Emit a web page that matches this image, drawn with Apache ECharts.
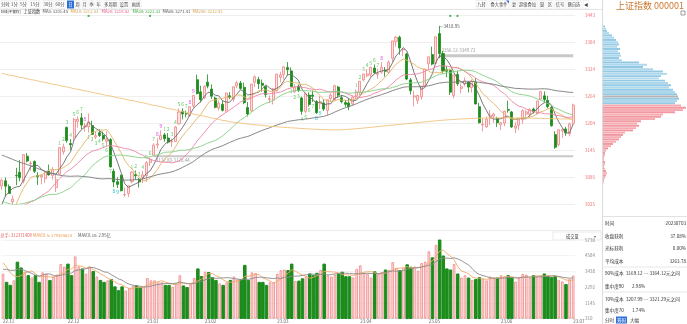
<!DOCTYPE html>
<html><head><meta charset="utf-8">
<script src="https://cdn.jsdelivr.net/npm/echarts@6/dist/echarts.min.js"></script>
<style>html,body{margin:0;padding:0;background:#fff;}#c{width:687px;height:324px;}</style>
</head><body><div id="c"></div><script>
const dates = ['2022-11-07','2022-11-08','2022-11-09','2022-11-10','2022-11-11','2022-11-14','2022-11-15','2022-11-16','2022-11-17','2022-11-18','2022-11-21','2022-11-22','2022-11-23','2022-11-24','2022-11-25','2022-11-28','2022-11-29','2022-11-30',
'2022-12-01','2022-12-02','2022-12-05','2022-12-06','2022-12-07','2022-12-08','2022-12-09','2022-12-12','2022-12-13','2022-12-14','2022-12-15','2022-12-16','2022-12-19','2022-12-20','2022-12-21','2022-12-22','2022-12-23','2022-12-26','2022-12-27','2022-12-28','2022-12-29','2022-12-30',
'2023-01-03','2023-01-04','2023-01-05','2023-01-06','2023-01-09','2023-01-10','2023-01-11','2023-01-12','2023-01-13','2023-01-16','2023-01-17','2023-01-18','2023-01-19','2023-01-20','2023-01-30','2023-01-31',
'2023-02-01','2023-02-02','2023-02-03','2023-02-06','2023-02-07','2023-02-08','2023-02-09','2023-02-10','2023-02-13','2023-02-14','2023-02-15','2023-02-16','2023-02-17','2023-02-20','2023-02-21','2023-02-22','2023-02-23','2023-02-24','2023-02-27','2023-02-28',
'2023-03-01','2023-03-02','2023-03-03','2023-03-06','2023-03-07','2023-03-08','2023-03-09','2023-03-10','2023-03-13','2023-03-14','2023-03-15','2023-03-16','2023-03-17','2023-03-20','2023-03-21','2023-03-22','2023-03-23','2023-03-24','2023-03-27','2023-03-28','2023-03-29','2023-03-30','2023-03-31',
'2023-04-03','2023-04-04','2023-04-06','2023-04-07','2023-04-10','2023-04-11','2023-04-12','2023-04-13','2023-04-14','2023-04-17','2023-04-18','2023-04-19','2023-04-20','2023-04-21','2023-04-24','2023-04-25','2023-04-26','2023-04-27','2023-04-28',
'2023-05-04','2023-05-05','2023-05-08','2023-05-09','2023-05-10','2023-05-11','2023-05-12','2023-05-15','2023-05-16','2023-05-17','2023-05-18','2023-05-19','2023-05-22','2023-05-23','2023-05-24','2023-05-25','2023-05-26','2023-05-29','2023-05-30','2023-05-31',
'2023-06-01','2023-06-02','2023-06-05','2023-06-06','2023-06-07','2023-06-08','2023-06-09','2023-06-12','2023-06-13','2023-06-14','2023-06-15','2023-06-16','2023-06-19','2023-06-20','2023-06-21','2023-06-26','2023-06-27','2023-06-28','2023-06-29','2023-06-30',
'2023-07-03'];

const opens = [3064.9,3076.3,3063.6,3029.6,3088.3,3095.2,3075.8,3130.8,3114.5,3119.1,3087.8,3084.9,3081.1,3097.7,3087.7,3061.6,3091.0,3140.5,
3194.3,3158.7,3173.1,3207.2,3215.5,3195.3,3195.9,3198.4,3172.9,3182.7,3176.9,3163.5,3167.4,3097.6,3074.4,3088.7,3045.3,3048.4,3074.7,3089.9,3079.4,3083.5,
3087.5,3117.0,3132.8,3155.4,3167.6,3177.9,3170.9,3162.2,3163.4,3202.4,3230.2,3224.5,3220.6,3242.0,3300.0,3273.0,
3260.1,3294.5,3279.2,3259.3,3237.3,3245.5,3232.2,3264.3,3256.8,3286.0,3292.6,3283.0,3238.4,3230.9,3294.3,3300.2,3292.1,3284.9,3256.1,3254.8,
3275.5,3305.4,3311.4,3327.0,3319.4,3273.5,3286.0,3259.6,3229.9,3265.8,3265.8,3251.7,3246.8,3248.4,3231.9,3257.8,3255.7,3283.6,3260.2,3249.3,3248.6,3246.2,3263.8,
3270.8,3299.5,3308.8,3310.6,3325.7,3311.7,3316.7,3320.8,3315.6,3347.1,3384.9,3393.9,3365.9,3356.9,3299.5,3261.5,3254.2,3261.8,3286.2,
3334.9,3355.4,3336.0,3401.9,3357.7,3321.9,3320.5,3265.2,3311.6,3280.7,3290.4,3294.9,3282.7,3294.4,3240.3,3200.0,3195.5,3214.9,3219.4,3213.6,
3200.4,3203.9,3233.8,3228.6,3192.8,3199.4,3211.2,3223.7,3223.4,3234.9,3224.9,3256.9,3264.2,3254.5,3238.4,3178.5,3156.3,3186.2,3191.0,3180.3,
3203.0];
const closes = [3077.8,3064.5,3048.3,3036.1,3087.3,3083.4,3134.1,3120.0,3115.4,3097.2,3085.0,3088.9,3096.9,3089.3,3101.7,3078.6,3149.8,3151.3,
3165.5,3156.1,3211.8,3212.5,3199.6,3197.4,3206.9,3179.0,3176.3,3176.5,3168.7,3167.9,3107.1,3073.8,3068.4,3054.4,3045.9,3065.6,3095.6,3087.4,3073.7,3089.3,
3116.5,3123.5,3155.2,3157.6,3176.1,3169.5,3161.8,3163.5,3195.3,3228.5,3224.2,3224.4,3240.3,3264.8,3269.3,3255.7,
3284.9,3285.7,3263.4,3238.7,3248.1,3232.1,3270.4,3260.7,3284.2,3293.3,3280.5,3249.0,3224.0,3290.3,3306.5,3291.2,3287.5,3267.2,3258.0,3279.6,
3312.4,3310.7,3328.4,3322.0,3285.1,3283.3,3276.1,3230.1,3268.7,3245.3,3263.3,3226.9,3250.6,3234.9,3255.7,3265.7,3286.6,3265.7,3251.4,3245.4,3240.1,3261.3,3272.9,
3296.4,3312.6,3312.6,3327.6,3315.4,3313.6,3327.2,3318.4,3338.2,3385.6,3393.3,3370.1,3367.5,3301.3,3275.4,3264.1,3264.9,3285.9,3323.3,
3350.5,3334.5,3395.0,3357.7,3319.1,3318.6,3272.4,3310.7,3291.0,3284.2,3297.3,3283.5,3296.5,3246.2,3204.6,3201.3,3212.5,3221.5,3224.2,3204.6,
3204.6,3230.1,3232.4,3195.3,3197.8,3213.6,3231.4,3228.8,3233.7,3228.9,3253.0,3273.3,3255.8,3240.4,3197.9,3150.6,3189.4,3189.4,3182.4,3202.1,
3243.98];
const lows = [3056.6,3041.7,3047.6,3023.85,3066.6,3075.2,3070.6,3117.2,3098.7,3093.6,3067.3,3068.7,3071.6,3088.0,3079.1,3051.4,3090.4,3134.2,
3160.4,3143.8,3164.6,3193.8,3190.3,3184.7,3182.7,3177.6,3168.2,3173.1,3163.8,3152.0,3105.7,3062.2,3060.1,3052.9,3040.97,3040.2,3070.9,3078.3,3061.5,3070.9,
3073.9,3109.0,3132.8,3147.6,3165.8,3162.9,3158.6,3151.6,3163.4,3200.8,3212.2,3216.6,3217.7,3237.3,3267.2,3249.8,
3256.9,3280.8,3257.7,3236.6,3231.6,3229.6,3226.8,3256.5,3250.9,3281.0,3278.2,3245.7,3218.4,3229.0,3283.6,3279.3,3273.2,3260.5,3248.0,3245.2,
3273.7,3294.0,3300.5,3309.4,3283.7,3270.4,3272.6,3222.4,3225.6,3240.5,3250.6,3224.2,3234.7,3230.6,3221.7,3250.6,3254.3,3260.6,3247.4,3240.0,3232.4,3242.6,3256.5,
3265.5,3296.4,3305.6,3305.7,3313.2,3302.2,3312.9,3306.8,3312.3,3339.5,3373.2,3355.2,3351.6,3298.7,3267.1,3240.7,3245.8,3255.9,3283.8,
3322.6,3331.6,3336.0,3347.6,3313.6,3305.3,3266.1,3258.3,3286.4,3269.4,3285.0,3271.6,3271.4,3245.4,3203.2,3185.8,3193.9,3199.9,3204.2,3195.2,
3188.5,3197.0,3227.0,3193.5,3181.8,3188.5,3202.3,3216.6,3215.9,3224.7,3222.0,3254.1,3248.6,3236.6,3196.2,3146.8,3152.8,3171.6,3175.8,3174.7,
3200.2];
const highs = [3081.4,3083.5,3068.4,3043.8,3105.0,3122.0,3135.3,3137.5,3119.9,3121.3,3095.2,3089.9,3097.9,3112.1,3106.9,3089.8,3151.3,3158.6,
3196.3,3168.6,3215.0,3219.0,3226.3,3204.8,3225.2,3209.0,3185.8,3190.3,3185.1,3185.8,3170.5,3103.2,3084.0,3089.8,3061.6,3066.1,3097.7,3098.9,3082.5,3098.1,
3119.9,3128.4,3159.4,3170.4,3188.1,3182.2,3181.6,3169.7,3197.6,3236.9,3236.8,3231.6,3241.6,3265.9,3311.0,3286.4,
3287.1,3311.7,3289.4,3262.5,3253.9,3253.5,3271.6,3272.3,3285.0,3297.4,3297.1,3293.7,3250.7,3290.6,3309.3,3306.3,3300.3,3286.3,3264.7,3282.1,
3313.0,3317.5,3329.5,3339.0,3327.3,3290.4,3289.2,3262.3,3270.8,3271.8,3276.2,3254.7,3263.7,3256.1,3255.7,3270.0,3288.6,3286.3,3266.2,3255.0,3258.5,3263.4,3278.2,
3296.4,3313.6,3323.0,3328.4,3333.8,3324.4,3338.9,3328.1,3342.5,3385.6,3396.6,3397.2,3368.3,3359.3,3303.6,3275.6,3266.8,3285.9,3323.4,
3350.5,3372.9,3395.0,3418.95,3363.6,3330.0,3324.1,3310.7,3318.9,3291.9,3304.6,3296.3,3300.2,3303.1,3248.5,3214.5,3218.5,3233.0,3226.7,3218.0,
3206.5,3231.6,3253.4,3230.9,3205.8,3214.0,3234.3,3232.3,3236.6,3238.3,3253.0,3275.3,3274.0,3264.1,3242.3,3186.0,3189.5,3193.2,3195.9,3205.3,
3246.8];
const volumes = [3270,2640,2420,2780,4110,3690,3410,3130,2990,3130,2640,3360,3270,2780,3060,3200,3970,3780,
3970,3130,4530,3780,3620,3270,3780,3430,3060,2780,2640,2780,2850,2310,2030,2310,2030,2200,2380,2380,2260,2300,
2950,2780,2780,2640,2640,2420,2420,2310,2560,3150,2380,2260,2500,2950,3620,3060,
3410,3360,2990,2780,2560,2420,2640,2780,3060,2850,2850,3880,2780,3360,3310,2640,2640,2420,2640,2640,
3270,3520,3570,3500,3970,2730,2730,2900,3060,3250,3130,3300,3540,3970,3150,3060,3200,3250,3380,3050,3050,2990,3620,
3880,3330,3250,2990,3410,3250,3380,3540,3540,4110,3690,3500,3690,3920,3740,3780,3480,4040,4150,
4900,4430,5360,5730,4560,3620,3540,3970,3250,2990,3150,2950,2810,2840,2990,2870,2780,3060,2990,2950,
3150,3060,3130,2950,2690,2950,3250,3200,2950,3130,3060,3150,3250,3080,2980,3076,2800,2700,2480,2860,
3124];
const priorCloses = [3236.93,3247.43,3230.02,3281.67,3276.89,3276.09,3277.54,3292.53,3277.79,3258.08,3277.44,3276.22,3215.20,3246.25,3236.22,3240.73,3227.22,3202.14,
3184.98,3186.48,3199.91,3243.45,3246.29,3235.59,3262.05,3263.80,3237.54,3199.92,3126.40,3115.60,3122.41,3117.18,3108.91,3088.37,3051.23,3093.86,3045.07,3041.20,3024.39,
2974.15,2979.79,3025.51,3016.36,3071.99,3084.94,3080.96,3044.39,3035.05,3038.93,2977.56,2976.28,2999.50,2982.90,2915.93,2893.48,
2969.20,3003.37,2997.81,3070.80];
const priorVolumes = [2800,3000,2900,3300,3600,4300,4400,3900,4500];
const ma250 = [3314,3312,3310,3309,3307,3305,3304,3302,3300,3299,3297,3295,3294,3292,3290,3289,3287,3285,3284,3282,3280,
3278.5,3277,3275,3274,3272,3270,3269,3267,3265,3264,3262,3260,3259,3257,3255,3254,3252,3250,3249,3247,
3245,3243,3242,3240,3238,3236,3235,3233,3231,3229,3228,3226,3224,3222,3221,3219,3217,3215,3214,3212,3210,3209,3207,
3206,3205,3204,3203,3202,3201,3200,3199.5,3199,3198,3197,3196.5,3196,3195,3194.5,3194,3193.5,3193,3192.5,3192,3191.5,3191,3190.5,3190,3190,3189.5,3189.5,3189,
3189,3189,3189.3,3189.7,3190.2,3190.8,3191.5,3192.2,3193,3193.8,3194.6,3195.4,3196.2,3197,3197.8,3198.6,3199.4,3200.2,3201,3201.8,3202.6,3203.4,3204.2,3205,3205.8,3206.6,3207.4,3208.2,3209,3209.7,3210.4,3211,3211.6,3212.1,3212.6,3213,3213.4,3213.8,3214.1,
3214.4,3214.7,3215,3215.2,3215.4,3215.5,3215.6,3215.7,3215.7,3215.7,3215.6,3215.5,3215.4,3215.3,3215.1,3214.9,3214.7,3214.5,3214.3,3214.1,3213.9,3213.7,3213.5,3213.4,3213.2,3213.1,3213.0,3212.83];
const priceTicks = ['3025','3085','3145','3204','3264','3324','3384','3443'];
const volTicks = ['310','1145','2292','3438','4584','5730'];
const chipPrices = [3415,3410,3405,3400,3395,3390,3385,3380,3375,3370,3365,3360,3355,3350,3345,3340,3335,3330,3325,3320,3315,3310,3305,3300,3295,3290,3285,3280,3275,3270,3265,3260,3255,3250,3245,3240,3235,3230,3225,3220,3215,3210,3205,3200,3195,3190,3185,3180,3175,3170,3165,3160,3155,3150,3145,3140,3135,3130,3125,3120,3115,3110,3105,3100,3095,3090,3085,3080,3075,3070];
const chipSizes = [2,3,4,6,9,11,13,15,16,14,17,15,17,18,16,19,36,44,40,50,60,64,58,56,62,65,68,66,70,72,74,75,76,74,72,78,83,80,72,60,58,52,38,34,36,33,30,22,20,18,16,13,10,8,5,3,2,2,1,1,2,2,1,2,3,4,3,2,1,1];
const chipStep = 5;
const avgCost = 3263.78;
const gapBands = [[121, 3349.72, 3356.12, '3356.12-3349.72', -6], [42, 3128.44, 3132.80, '3132.80-3128.44', 3]];
const eventDays = [24, 41, 124, 126];

const FONT = '"Noto Sans CJK SC","Noto Sans",sans-serif';
const lastClose = closes[closes.length-1];
function maOf(n){
  const all = priorCloses.concat(closes);
  return closes.map((c,i)=>{const end=priorCloses.length+i;let s=0;for(let k=end-n+1;k<=end;k++)s+=all[k];return +(s/n).toFixed(2);});
}
function maVol(n){
  const all = priorVolumes.concat(volumes);
  return volumes.map((v,i)=>{const end=priorVolumes.length+i;let s=0;for(let k=end-n+1;k<=end;k++)s+=all[k];return Math.round(s/n);});
}
// TD sequential ("九转") counts derived from closes: [index, count, isUp]
function tdMarks(){
  const all = priorCloses.concat(closes), off = priorCloses.length;
  let up=0, dn=0; const upC=[], dnC=[];
  for(let i=0;i<closes.length;i++){
    const c=all[off+i], p=all[off+i-4];
    if(c>p){up = up>=9?1:up+1;} else up=0;
    if(c<p){dn = dn>=9?1:dn+1;} else dn=0;
    upC.push(up); dnC.push(dn);
  }
  const pts=[];
  function keep(arr, isUp){
    let i=0;
    while(i<arr.length){
      if(arr[i]===1){
        let j=i; while(j+1<arr.length && arr[j+1]===arr[j]+1) j++;
        if(arr[j]>=8){ for(let k=i;k<=j;k++) pts.push([k, arr[k], isUp?1:0]); }
        i=j+1;
      } else i++;
    }
  }
  keep(upC,true); keep(dnC,false);
  return pts;
}
const candle = opens.map((o,i)=>[o,closes[i],lows[i],highs[i]]);
const UPF='#fde3e3', UPB='#f08585', DN='#1c8c1c';
const volData = volumes.map((v,i)=>({value:v,itemStyle: closes[i]>=opens[i]?{color:UPF,borderColor:UPB,borderWidth:0.8}:{color:DN,borderColor:DN}}));
const maDefs = [[5,'#6a6a6a'],[10,'#e2b468'],[20,'#ec86a6'],[30,'#86cf86'],[60,'#7a7a7a']];
const hiIdx = highs.indexOf(Math.max(...highs)), loIdx = lows.indexOf(Math.min(...lows));

const chart = echarts.init(document.getElementById('c'), null, {renderer:'canvas'});
const series = [{
  type:'candlestick', xAxisIndex:0, yAxisIndex:0, data:candle, barWidth:'70%', clip:false,
  itemStyle:{color:UPF,color0:DN,borderColor:UPB,borderColor0:DN,borderWidth:0.8},
  markArea:{silent:true, data: gapBands.map(g=>[{xAxis:dates[g[0]],yAxis:g[1],name:g[3],itemStyle:{color:'#c8c8c8'},label:{show:true,position:[2,g[4]],color:'#999',fontSize:4.5,fontFamily:FONT}},{xAxis:dates[dates.length-1],yAxis:g[2]}])},
  markPoint:{symbol:'rect',symbolSize:0,silent:true,data:[
    {coord:[dates[hiIdx],highs[hiIdx]],label:{show:true,position:'right',distance:0,formatter:'—'+highs[hiIdx].toFixed(2),color:'#555',fontSize:4.5,fontFamily:FONT}},
    {coord:[dates[loIdx],lows[loIdx]],label:{show:true,position:'right',distance:0,formatter:'—'+lows[loIdx].toFixed(2),color:'#555',fontSize:4.5,fontFamily:FONT}}]}
}];
maDefs.forEach(([n,c])=>series.push({type:'line',xAxisIndex:0,yAxisIndex:0,data:maOf(n),symbol:'none',lineStyle:{width:0.9,color:c},silent:true}));
series.push({type:'line',xAxisIndex:0,yAxisIndex:0,data:ma250,symbol:'none',lineStyle:{width:0.9,color:'#efc27e'},silent:true});
series.push({type:'custom',xAxisIndex:0,yAxisIndex:0,silent:true,clip:false,data:tdMarks(),
  renderItem:(params,api)=>{
    const k=api.value(0), n=api.value(1), isUp=api.value(2)===1;
    const p=api.coord([k, isUp?highs[k]:lows[k]]);
    const col = n>=8 ? (isUp?'#e040e0':'#19b9c9') : '#66cc66';
    return {type:'text',x:p[0],y:p[1]+(isUp?-4:4),style:{text:String(n),fill:col,font:'5px '+FONT,textAlign:'center',textVerticalAlign:'middle'}};
  }});
series.push({type:'scatter',xAxisIndex:0,yAxisIndex:0,symbol:'rect',symbolSize:2,silent:true,itemStyle:{color:'#2a9d2a'},clip:false,data:eventDays.map(i=>[dates[i],3441])});
series.push({type:'bar',xAxisIndex:1,yAxisIndex:1,data:volData,barWidth:'70%'});
series.push({type:'line',xAxisIndex:1,yAxisIndex:1,data:maVol(5),symbol:'none',lineStyle:{width:0.9,color:'#f0a868'}});
series.push({type:'line',xAxisIndex:1,yAxisIndex:1,data:maVol(10),symbol:'none',lineStyle:{width:0.9,color:'#8a8a8a'}});
series.push({type:'custom',xAxisIndex:2,yAxisIndex:2,data:chipPrices.map((p,i)=>[p,chipSizes[i]]),
  renderItem:(params,api)=>{
    const lo=api.value(0), len=api.value(1);
    const a=api.coord([0,lo+chipStep]), b=api.coord([len,lo]);
    let fill;
    if(avgCost>=lo && avgCost<lo+chipStep) fill='#b5b5b5';
    else if(lo>=lastClose) fill = params.dataIndex%2?'#acd7ec':'#93c9e4';
    else fill = params.dataIndex%2?'#f5abb1':'#f1979f';
    return {type:'rect',shape:{x:a[0],y:a[1],width:b[0]-a[0],height:Math.max(0.8,b[1]-a[1]-0.3)},style:{fill:fill}};
  }});

const FS = 4.2;
function txt(x,y,t,c,fs,align){return {type:'text',x:x,y:y,style:{text:t,fill:c||'#333',font:(fs||FS)+'px '+FONT,textAlign:align||'left',textVerticalAlign:'middle'}};}
const graphics = [];
graphics.push({type:'line',shape:{x1:0,y1:9.5,x2:602,y2:9.5},style:{stroke:'#e4e4e4',lineWidth:1}});
graphics.push({type:'line',shape:{x1:602.5,y1:0,x2:602.5,y2:324},style:{stroke:'#dcdcdc',lineWidth:1}});
graphics.push({type:'line',shape:{x1:0,y1:230.5,x2:602,y2:230.5},style:{stroke:'#ececec',lineWidth:1}});
const tb = [['分时',1,9],['1分',11,7],['5分',20,7],['15分',30,10],['30分',43,10],['60分',55,10],['日',67,7],['周',75,5],['月',82,5],['季',89,5],['年',96,5],['多周期',104,13],['设置',119,10],['画线',131,10]];
tb.forEach(([t,x,w])=>{
  if(t==='日') graphics.push({type:'rect',shape:{x:x,y:0.5,width:w,height:8},style:{fill:'#2d6fd6'}});
  else graphics.push({type:'rect',shape:{x:x,y:0.5,width:w,height:8},style:{fill:'#fff',stroke:'#e2e2e2',lineWidth:0.5}});
  graphics.push(txt(x+w/2,4.7,t,t==='日'?'#fff':'#444',FS,'center'));
});
const tb2 = [['九转',476,11],['叠大事件',489,20],['复',511,6],['超级叠加',518,19],['窗',539,6],['区',547,6],['信号',555,10],['删自选',567,14],['◀',583,6]];
tb2.forEach(([t,x,w])=>{
  graphics.push({type:'rect',shape:{x:x,y:0.5,width:w,height:8},style:{fill:'#fff',stroke:'#e2e2e2',lineWidth:0.5}});
  graphics.push(txt(x+w/2,4.7,t,'#444',FS,'center'));
});
graphics.push({type:'polygon',shape:{points:[[506,0.5],[509,0.5],[509,3.5]]},style:{fill:'#2d6fd6'}});
const lg = [['日线(不复权)',0,'#333',3.6],['上证指数',23,'#333',FS],['MA5: 3201.45',42,'#555',FS],['MA10: 3212.53',70,'#d7a24c',FS],['MA20: 3218.52',101,'#e7588a',FS],['MA30: 3222.33',132,'#3fa93f',FS],['MA60: 3271.41',162,'#555',FS],['MA250: 3212.83',192,'#d7a24c',FS]];
lg.forEach(([t,x,c,f])=>graphics.push(txt(x+0.5,11.5,t,c,f)));
graphics.push(txt(0.5,235,'总手: 312371408','#e25b5b'));
graphics.push(txt(33,235,'MAVOL5: 279385624','#eb9a4a'));
graphics.push(txt(78,235,'MAVOL10: 2.95亿','#555'));
graphics.push({type:'rect',shape:{x:553,y:232,width:48,height:8},style:{fill:'#fff',stroke:'#dcdcdc',lineWidth:0.6}});
graphics.push(txt(566,236,'成交量','#333'));
graphics.push(txt(594,236,'▾','#666'));
graphics.push(txt(650,5.5,'上证指数 000001','#c9782f',9,'center'));
graphics.push({type:'rect',shape:{x:681,y:11,width:4,height:4},style:{fill:'#fff',stroke:'#777',lineWidth:0.7}});
graphics.push({type:'line',shape:{x1:603,y1:216.5,x2:687,y2:216.5},style:{stroke:'#e2e2e2',lineWidth:1}});
const info = [['时间','20230703',223],['收盘获利','37.08%',236],['光标获利','0.00%',248],['平均成本','3263.78',261]];
info.forEach(([a,b,y])=>{graphics.push(txt(605,y,a,'#333',4.6));graphics.push(txt(686,y,b,'#333',4.6,'right'));});
graphics.push({type:'line',shape:{x1:603,y1:267,x2:687,y2:267},style:{stroke:'#e2e2e2',lineWidth:0.8}});
graphics.push(txt(605,273,'90%成本','#333',4.6)); graphics.push(txt(626,273,'3169.12 --- 3364.12元之间','#333',4.6));
graphics.push(txt(605,286,'集中度90','#333',4.6)); graphics.push(txt(632,286,'2.98%','#333',4.6));
graphics.push({type:'line',shape:{x1:603,y1:292,x2:687,y2:292},style:{stroke:'#e2e2e2',lineWidth:0.8}});
graphics.push(txt(605,299,'70%成本','#333',4.6)); graphics.push(txt(626,299,'3207.99 --- 3321.29元之间','#333',4.6));
graphics.push(txt(605,310,'集中度70','#333',4.6)); graphics.push(txt(632,310,'1.74%','#333',4.6));
graphics.push({type:'rect',shape:{x:616,y:316.5,width:11,height:7},style:{fill:'#2d6fd6'}});
graphics.push(txt(605,320,'分时','#333',4.6)); graphics.push(txt(617,320,'筹码','#fff',4.6)); graphics.push(txt(630,320,'大幅','#333',4.6));

const option = {
  animation:false,
  textStyle:{fontFamily:FONT},
  grid:[{left:0,top:15,width:575,height:189},{left:0,top:240,width:575,height:79},{left:603,top:15,width:84,height:189}],
  xAxis:[
    {type:'category',gridIndex:0,data:dates,boundaryGap:true,axisLine:{show:false},axisTick:{show:false},axisLabel:{show:false},splitLine:{show:false}},
    {type:'category',gridIndex:1,data:dates,boundaryGap:true,axisLine:{show:true,lineStyle:{color:'#e0e0e0'}},axisTick:{show:false},splitLine:{show:false},
     axisLabel:{show:true,fontSize:4.5,color:'#666',margin:1,align:'left',fontFamily:FONT,
       interval:(i,v)=> i===0 || v.slice(0,7)!==dates[i-1].slice(0,7),
       formatter:v=>v.slice(2,4)+'.'+v.slice(5,7)}},
    {type:'value',gridIndex:2,min:0,max:84,show:false}
  ],
  yAxis:[
    {type:'value',gridIndex:0,position:'right',min:3025,max:3443,interval:(3443-3025)/7,axisLine:{show:false},axisTick:{show:false},
     splitLine:{lineStyle:{color:'#efefef',width:1}},
     axisLabel:{fontSize:4.5,color:'#f07070',margin:10,fontFamily:FONT,formatter:(v)=>priceTicks[Math.round((v-3025)/((3443-3025)/7))]}},
    {type:'value',gridIndex:1,position:'right',min:0,max:5730,interval:1146,axisLine:{show:false},axisTick:{show:false},
     splitLine:{lineStyle:{color:'#f3f3f3',width:1}},
     axisLabel:{fontSize:4.5,color:'#888',margin:10,fontFamily:FONT,formatter:(v)=>volTicks[Math.round(v/1146)]}},
    {type:'value',gridIndex:2,min:3025,max:3443,show:false}
  ],
  graphic:graphics,
  series:series
};
chart.setOption(option);
</script></body></html>
